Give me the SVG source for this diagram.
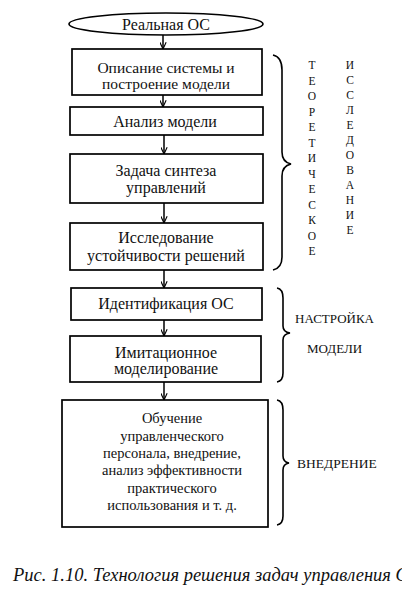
<svg xmlns="http://www.w3.org/2000/svg" width="402" height="615" viewBox="0 0 402 615">
<defs>
<marker id="arr" viewBox="0 0 10 10" refX="9.5" refY="5" markerWidth="7" markerHeight="7" markerUnits="userSpaceOnUse" orient="auto">
<path d="M0,0.5 L9.5,5 L0,9.5" fill="none" stroke="#000" stroke-width="1.6"/>
</marker>
<style>
.box{fill:#fff;stroke:#000;stroke-width:1.7}
.t{font-size:16px;fill:#111;text-anchor:middle}
.s{font-size:14.5px;fill:#111;text-anchor:middle}
.side{font-size:13px;fill:#111}
.v{font-size:11.5px;fill:#111;text-anchor:middle}
.br{fill:none;stroke:#000;stroke-width:1.6}
.con{fill:none;stroke:#000;stroke-width:1.5;marker-end:url(#arr)}
.cap{font-size:18.5px;font-style:italic;fill:#111}
</style>
</defs>
<rect width="402" height="615" fill="#fff"/>
<g id="connectors">
<line class="con" x1="163" y1="35" x2="163" y2="49"/>
<line class="con" x1="163" y1="95" x2="163" y2="107"/>
<line class="con" x1="164" y1="135" x2="164" y2="154"/>
<line class="con" x1="164" y1="203" x2="164" y2="223"/>
<line class="con" x1="164" y1="270" x2="164" y2="288"/>
<line class="con" x1="164" y1="320" x2="164" y2="336"/>
<line class="con" x1="164" y1="382" x2="164" y2="400"/>
</g>
<g font-family="Liberation Serif, serif">
<g id="n0">
<ellipse cx="166" cy="24" rx="97" ry="11" class="box"/>
<text class="t" x="166" y="29.5">Реальная ОС</text>
</g>
<g id="n1">
<rect class="box" x="72" y="49" width="190" height="46"/>
<text class="t" x="166" y="73" style="font-size:15.5px">Описание системы и</text>
<text class="t" x="166" y="89" style="font-size:15.5px">построение модели</text>
</g>
<g id="n2">
<rect class="box" x="70" y="107" width="193" height="28"/>
<text class="t" x="165" y="126.5">Анализ модели</text>
</g>
<g id="n3">
<rect class="box" x="70" y="154" width="193" height="49"/>
<text class="t" x="166" y="176">Задача синтеза</text>
<text class="t" x="166" y="193">управлений</text>
</g>
<g id="n4">
<rect class="box" x="70" y="223" width="193" height="47"/>
<text class="t" x="166" y="243">Исследование</text>
<text class="t" x="166" y="260.5">устойчивости решений</text>
</g>
<g id="n5">
<rect class="box" x="71" y="288" width="191" height="32"/>
<text class="t" x="166" y="308.5">Идентификация ОС</text>
</g>
<g id="n6">
<rect class="box" x="70" y="336" width="191" height="46"/>
<text class="t" x="166" y="357.5">Имитационное</text>
<text class="t" x="166" y="373.5">моделирование</text>
</g>
<g id="n7">
<rect class="box" x="62" y="400" width="206" height="127"/>
<text class="s" x="172" y="423">Обучение</text>
<text class="s" x="172" y="441">управленческого</text>
<text class="s" x="172" y="458">персонала, внедрение,</text>
<text class="s" x="172" y="475">анализ эффективности</text>
<text class="s" x="172" y="493">практического</text>
<text class="s" x="172" y="510">использования и т. д.</text>
</g>
<g id="brace1">
<path class="br" d="M273,55 Q282,57 282,70 L282,152 Q282,162 291,164 Q282,166 282,176 L282,257 Q282,268 273,270"/>
<text class="v" x="312"><tspan x="312" y="69">Т</tspan><tspan x="312" y="84.5">Е</tspan><tspan x="312" y="100">О</tspan><tspan x="312" y="115.5">Р</tspan><tspan x="312" y="131">Е</tspan><tspan x="312" y="146.5">Т</tspan><tspan x="312" y="162">И</tspan><tspan x="312" y="177.5">Ч</tspan><tspan x="312" y="193">Е</tspan><tspan x="312" y="208.5">С</tspan><tspan x="312" y="224">К</tspan><tspan x="312" y="239.5">О</tspan><tspan x="312" y="255">Е</tspan></text>
<text class="v" x="350"><tspan x="350" y="69">И</tspan><tspan x="350" y="84">С</tspan><tspan x="350" y="99">С</tspan><tspan x="350" y="114">Л</tspan><tspan x="350" y="129">Е</tspan><tspan x="350" y="144">Д</tspan><tspan x="350" y="159">О</tspan><tspan x="350" y="174">В</tspan><tspan x="350" y="189">А</tspan><tspan x="350" y="204">Н</tspan><tspan x="350" y="219">И</tspan><tspan x="350" y="234">Е</tspan></text>
</g>
<g id="brace2">
<path class="br" d="M277,288 Q283,289 283,298 L283,326 Q283,332 290,333 Q283,334 283,340 L283,373 Q283,381 277,382"/>
<text class="side" x="295" y="322.5">НАСТРОЙКА</text>
<text class="side" x="307" y="352.5">МОДЕЛИ</text>
</g>
<g id="brace3">
<path class="br" d="M277,400 Q283,401 283,410 L283,456 Q283,462 289,463 Q283,464 283,470 L283,516 Q283,524 277,525"/>
<text class="side" x="297" y="467.5" style="font-size:13.5px">ВНЕДРЕНИЕ</text>
</g>
<text class="cap" x="13" y="581">Рис. 1.10. Технология решения задач управления ОС</text>
</g>
</svg>
